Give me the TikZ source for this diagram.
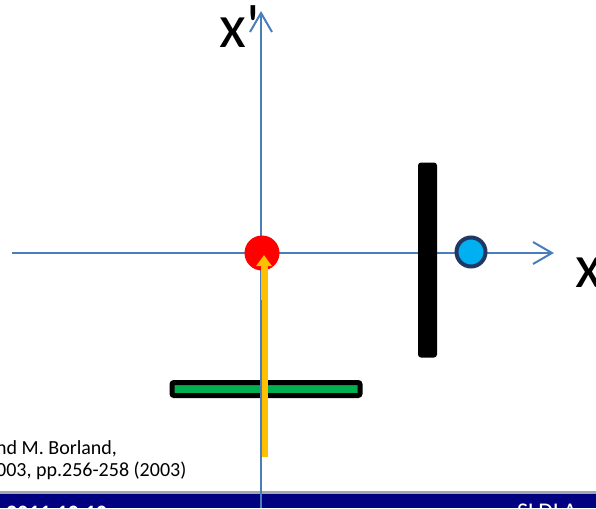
\documentclass[tikz,border=0pt]{standalone}
\usepackage{fontspec}
\setmainfont{Carlito}
\usetikzlibrary{arrows.meta}
\definecolor{axisblue}{HTML}{4A7EBB}
\definecolor{barnavy}{HTML}{000080}
\definecolor{ygold}{HTML}{FFC000}
\definecolor{pgreen}{HTML}{00B050}
\definecolor{cyanfill}{HTML}{00B0F0}
\definecolor{darkrim}{HTML}{1F3864}
\tikzset{
  axis/.style={draw=axisblue, line width=2.2pt, -{Straight Barb[length=19pt,width=22pt,line width=2pt]}},
  lbl/.style={font=\fontsize{62}{62}\selectfont, inner sep=0pt, text=black},
  ref/.style={font=\fontsize{20}{24}\selectfont, inner sep=0pt, anchor=west},
}
\begin{document}
\begin{tikzpicture}[x=1pt,y=-1pt]
\useasboundingbox (0,0) rectangle (596,508);
% bottom bar
\fill[gray!70] (0,490.5) rectangle (596,494);
\fill[barnavy] (0,494) rectangle (596,508);
\begin{scope}
\clip (0,494) rectangle (596,508);
\node[anchor=north west, inner sep=0pt, text=white, font=\fontsize{22}{22}\selectfont\bfseries] (foot1) at (6,506) {2011.10.10};
\node[anchor=north west, inner sep=0pt, text=white, font=\fontsize{24}{24}\selectfont] (foot2) at (517,504) {SLDLA};
\end{scope}
% reference text
\node[ref] (r1) at (-4,449) {nd M. Borland,};
\node[ref] (r2) at (-4,471) {003, pp.256-258 (2003)};
% yellow arrow
\coordinate (ys) at (264,457);
\coordinate (ye) at (264,255);
% axes
\coordinate (hx0) at (12,253);
\coordinate (hx1) at (554,253);
\coordinate (vy0) at (261,508);
\coordinate (vy1) at (261,11);
\draw[ygold, line width=7pt, -{Triangle[length=11pt,width=15pt]}] (ys) -- (ye);
\draw[axis] (hx0) -- (hx1);
\draw[axis] (vy0) -- (vy1);
% red circle
\node[circle, fill=red, minimum size=35pt, inner sep=0pt] (red) at (262,253) {};
\draw[ygold, line width=7pt, -{Triangle[length=11pt,width=15pt]}] (264,300) -- (ye);
% green bar
\node[draw=black, line width=5pt, fill=pgreen, rounded corners=2pt, minimum width=188pt, minimum height=13pt, inner sep=0pt] (gbar) at (266,389) {};
\draw[ygold, line width=7pt] (264,370) -- (264,410);
\draw[axisblue, line width=2.2pt] (261,370) -- (261,410);
% black bar
\node[fill=black, rounded corners=3pt, minimum width=19pt, minimum height=195pt, inner sep=0pt] (bbar) at (427.5,260) {};
% cyan circle
\node[circle, fill=cyanfill, draw=darkrim, line width=4pt, minimum size=29pt, inner sep=0pt] (cyan) at (471,252) {};
% labels
\node[lbl] (xp) at (240,27) {x\textquotesingle};
\node[lbl, anchor=west] (x) at (575,273) {x};
\end{tikzpicture}
\end{document}
